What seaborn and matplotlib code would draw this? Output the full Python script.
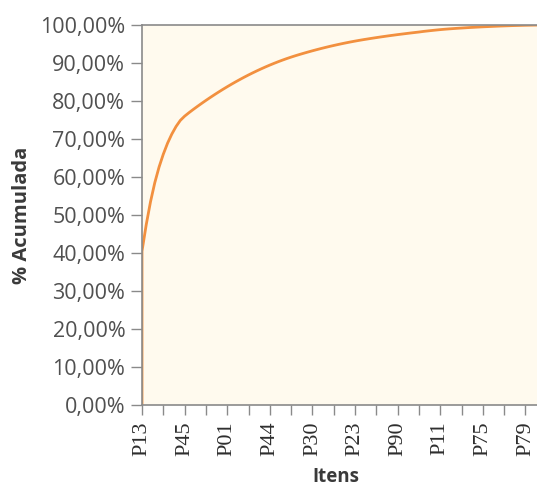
import numpy as np
import pandas as pd
import matplotlib
matplotlib.use("Agg")
import matplotlib.pyplot as plt
import seaborn as sns
from matplotlib.ticker import FuncFormatter

# cumulative % per ranked item (item rank 0..99)
cum_pct = [40.5, 47.5, 53.5, 58.5, 62.6, 66.0, 68.9, 71.3, 73.3, 74.9,
           76.0, 76.9, 77.75, 78.57, 79.37, 80.15, 80.91, 81.65, 82.37, 83.07,
           83.75, 84.41, 85.05, 85.67, 86.27, 86.85, 87.41, 87.95, 88.47, 88.97,
           89.45, 89.91, 90.35, 90.77, 91.17, 91.55, 91.91, 92.25, 92.58, 92.9,
           93.21, 93.51, 93.8, 94.08, 94.35, 94.61, 94.86, 95.1, 95.33, 95.55,
           95.76, 95.96, 96.15, 96.33, 96.51, 96.68, 96.85, 97.01, 97.17, 97.32,
           97.47, 97.61, 97.75, 97.89, 98.02, 98.15, 98.3, 98.43, 98.55, 98.67,
           98.78, 98.88, 98.97, 99.05, 99.13, 99.2, 99.27, 99.34, 99.4, 99.46,
           99.52, 99.57, 99.62, 99.67, 99.72, 99.76, 99.8, 99.84, 99.87, 99.9,
           99.93, 99.95, 99.97, 99.99, 100.0, 100.0, 100.0, 100.0, 100.0, 100.0]
tick_labels = ["P13", "P45", "P01", "P44", "P30", "P23", "P90", "P11", "P75", "P79"]
y_ticks = [0, 10, 20, 30, 40, 50, 60, 70, 80, 90, 100]

rank = list(range(len(cum_pct)))
# curve rises from 0 at the first item
df = pd.DataFrame({"rank": [0] + rank, "pct": [0.0] + cum_pct})

sns.set_style("white")
plt.rcParams["font.family"] = ["Open Sans", "DejaVu Sans"]

fig = plt.figure(figsize=(5.37, 4.87), dpi=100)
fig.patch.set_facecolor("white")
ax = fig.add_axes([142/537, 82/487, 426/537, 380/487])
ax.set_facecolor("#fffaee")

sns.lineplot(data=df, x="rank", y="pct", ax=ax, color="#f2903f",
             linewidth=2.0, sort=False, estimator=None)

ax.set_xlim(0, 100)
ax.set_ylim(0, 100)
ax.set_yticks(y_ticks)
ax.yaxis.set_major_formatter(FuncFormatter(lambda v, p: f"{v:.2f}".replace(".", ",") + "%"))
ax.set_xticks(list(range(0, 100, 5)))
lbls = []
for i in range(0, 100, 5):
    lbls.append(tick_labels[i // 10] if i % 10 == 0 and i // 10 < len(tick_labels) else "")
ax.set_xticklabels(lbls, rotation=90, family=["Liberation Serif"], fontsize=16, color="#2e2e2e")

ax.tick_params(axis="y", labelsize=15.5, labelcolor="#505050", length=8, width=1,
               color="#8a8a8a", left=True, pad=4)
ax.tick_params(axis="x", length=7, width=1, color="#8a8a8a", bottom=True, pad=5)

for s in ["left", "bottom", "top", "right"]:
    ax.spines[s].set_color("#8a8a8a")
    ax.spines[s].set_linewidth(1.2)

ax.set_xlabel("Itens", fontsize=13.5, fontweight="bold", color="#3a3a3a")
ax.xaxis.set_label_coords(0.454, -0.163)
ax.set_ylabel("% Acumulada", fontsize=14.5, fontweight="bold", color="#3a3a3a", labelpad=6)

fig.savefig("out.png", dpi=100, facecolor="white")
